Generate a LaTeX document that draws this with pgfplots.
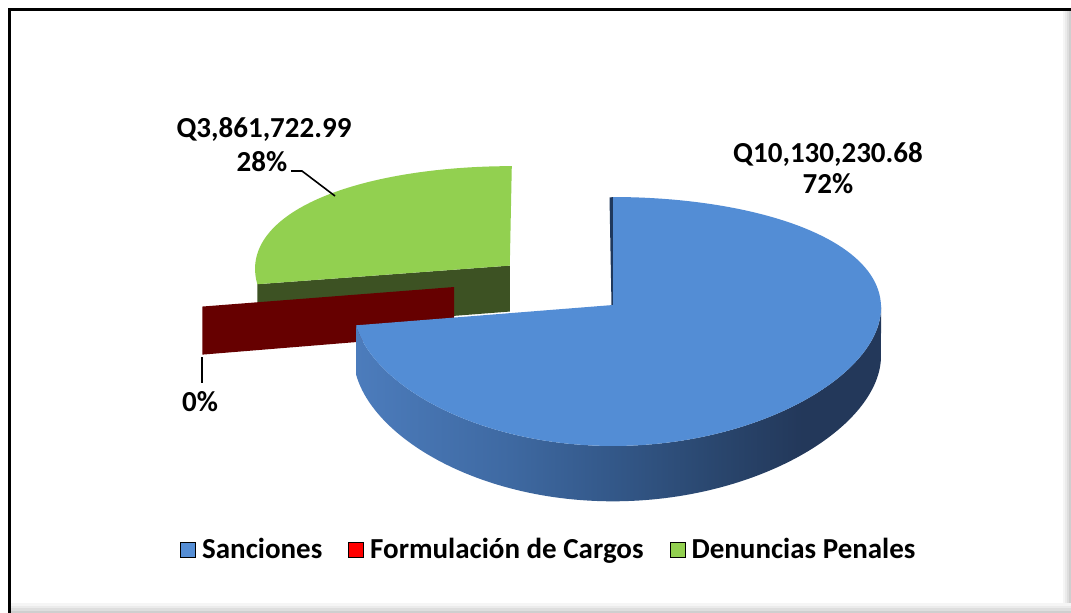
\documentclass[border=0pt]{standalone}
\usepackage{fontspec}
\setmainfont{Carlito}
\usepackage{xfp}
\usepackage{pgfplots}
\pgfplotsset{compat=1.18}

\definecolor{blueTop}{RGB}{83,141,213}
\definecolor{blueEdge}{RGB}{31,56,92}
\definecolor{bs1}{RGB}{76,124,188}
\definecolor{bs2}{RGB}{63,106,163}
\definecolor{bs3}{RGB}{50,86,134}
\definecolor{bs4}{RGB}{41,69,108}
\definecolor{bs5}{RGB}{35,56,90}
\definecolor{greenTop}{RGB}{146,208,80}
\definecolor{greenFace}{RGB}{61,82,35}
\definecolor{redFace}{RGB}{102,0,0}
\definecolor{legBlue}{RGB}{85,142,213}
\definecolor{legRed}{RGB}{255,0,0}
\definecolor{legGreen}{RGB}{146,208,80}

\pgfdeclarehorizontalshading{blueside}{100bp}{color(0bp)=(bs1); color(25bp)=(bs1); color(39bp)=(bs2); color(50.5bp)=(bs3); color(60bp)=(bs4); color(67.5bp)=(bs5); color(100bp)=(bs5)}

% ---- data (values of the chart) ----
\def\valS{10130230.68}% Sanciones
\def\valF{0}% Formulacion de Cargos
\def\valD{3861722.99}% Denuncias Penales

% ---- angles from the data ----
\edef\tB{\fpeval{round(90-360*\valS/(\valS+\valF+\valD),4)}}
\edef\tG{\fpeval{round(\tB+360,4)}}
\def\tS{-1.15}
\edef\mG{\fpeval{round((90+\tG)/2,4)}}
\edef\eu{\fpeval{round(0.52*cosd(\mG),4)}}
\edef\ev{\fpeval{round(0.52*sind(\mG),4)}}
\def\ru{-0.61}\def\rv{0.150}
% ---- projection of the pie plane ----
\def\PX#1#2{\fpeval{round(613+263.7*(#1)/(1+0.02*(#2)-0.016*(#1)),2)}}
\def\PY#1#2{\fpeval{round(305-122.3*(#2)/(1+0.1325*(#2)),2)}}
\def\PB#1#2{\fpeval{round(305+(48-122.3*(#2))/(1+0.1325*(#2)),2)}}
\edef\gou{\fpeval{round(\eu+cosd(\tG),4)}}
\edef\gov{\fpeval{round(\ev+sind(\tG),4)}}
\edef\rou{\fpeval{round(\ru+cosd(\tG),4)}}
\edef\rov{\fpeval{round(\rv+sind(\tG),4)}}
\edef\gAx{\PX{\eu}{\ev}}\edef\gAy{\PY{\eu}{\ev}}\edef\gAb{\PB{\eu}{\ev}}
\edef\gOx{\PX{\gou}{\gov}}\edef\gOy{\PY{\gou}{\gov}}\edef\gOb{\PB{\gou}{\gov}}
\edef\rAx{\PX{\ru}{\rv}}\edef\rAy{\PY{\ru}{\rv}}\edef\rAb{\PB{\ru}{\rv}}
\edef\rOx{\PX{\rou}{\rov}}\edef\rOy{\PY{\rou}{\rov}}\edef\rOb{\PB{\rou}{\rov}}

\newcommand\lblfont{\fontsize{29}{34}\selectfont\bfseries}

\begin{document}
\begin{tikzpicture}
\begin{axis}[
  width=1071pt, height=613pt, scale only axis,
  xmin=0, xmax=1071, ymin=0, ymax=613, y dir=reverse,
  axis lines=none, clip=false,
  declare function={
    TT(\s)=(\s<=1)?((\tB)+((\tS)-(\tB))*\s):((\tS)-((\tS)-(\tB))*(\s-1));
    OF(\s)=(\s<=1)?0:48;
    PXf(\u,\v)=613+263.7*\u/(1+0.02*\v-0.016*\u);
    PYf(\u,\v)=305-122.3*\v/(1+0.1325*\v);
  },
  legend image code/.code={\fill[#1] (0pt,-7.5pt) rectangle (15pt,7.5pt);},
  legend style={draw=none, fill=none, at={(0.5125,0.104)}, anchor=center,
    legend columns=3, font=\lblfont,
    /tikz/every odd column/.append style={column sep=4.5pt},
    /tikz/every even column/.append style={column sep=24pt}},
  legend cell align=left,
]
% background and frame
\fill[white] (axis cs:-8,-8) rectangle (axis cs:1080,622);
\fill[black!4]  (axis cs:1063,10.5) rectangle (axis cs:1080,622);
\fill[black!8]  (axis cs:1065,10.5) rectangle (axis cs:1080,622);
\fill[black!13] (axis cs:1067,10.5) rectangle (axis cs:1080,622);
\fill[black!19] (axis cs:1069,10.5) rectangle (axis cs:1080,622);
\fill[black!4]  (axis cs:10.5,603) rectangle (axis cs:1080,622);
\fill[black!8]  (axis cs:10.5,605.5) rectangle (axis cs:1080,622);
\fill[black!13] (axis cs:10.5,608) rectangle (axis cs:1080,622);
\fill[black!19] (axis cs:10.5,610.5) rectangle (axis cs:1080,622);
\fill[black] (axis cs:8,8) rectangle (axis cs:1080,10.5);
\fill[black] (axis cs:8,8) rectangle (axis cs:10.5,622);

% Denuncias Penales: cut face, top
\addplot[forget plot, draw=none, fill=greenFace] coordinates {(\gAx,\gAy) (\gOx,\gOy) (\gOx,\gOb) (\gAx,\gAb)} -- cycle;
\addplot[forget plot, draw=none, fill=greenTop, domain=90:\tG, samples=80, variable=\t]
  ({PXf(\eu+cos(\t),\ev+sin(\t))},
   {PYf(\eu+cos(\t),\ev+sin(\t))}) -- (axis cs:\gAx,\gAy) -- cycle;
% Formulacion de Cargos (0%): cut face
\addplot[forget plot, draw=none, fill=redFace] coordinates {(\rAx,\rAy) (\rOx,\rOy) (\rOx,\rOb) (\rAx,\rAb)} -- cycle;
% Sanciones: edge, side, top
\addplot[forget plot, draw=none, fill=blueEdge] coordinates {(609.5,197.5) (613.5,197) (614,305) (611.5,305.5)} -- cycle;
\addplot[forget plot, draw=none, shade, shading=blueside, domain=0:2, samples=241, variable=\s]
  ({613+263.7*cos(TT(\s))/(1+0.02*sin(TT(\s))-0.016*cos(TT(\s)))},
   {305+(OF(\s)-122.3*sin(TT(\s)))/(1+0.1325*sin(TT(\s)))}) -- cycle;
\addplot[forget plot, draw=none, fill=blueTop, domain=\tB:90, samples=140, variable=\t]
  ({PXf(cos(\t),sin(\t))},
   {PYf(cos(\t),sin(\t))}) -- (axis cs:613,305) -- cycle;

% data labels
\node[anchor=base, inner sep=0pt, font=\lblfont] at (axis cs:264,137) {Q3,861,722.99};
\node[anchor=base, inner sep=0pt, font=\lblfont] at (axis cs:262,171) {28\%};
\node[anchor=base, inner sep=0pt, font=\lblfont] at (axis cs:828,162) {Q10,130,230.68};
\node[anchor=base, inner sep=0pt, font=\lblfont] at (axis cs:828,193) {72\%};
\node[anchor=base, inner sep=0pt, font=\lblfont] at (axis cs:200,411) {0\%};
\draw[line width=1.6pt] (axis cs:291,171) -- (axis cs:302,171) -- (axis cs:335,196);
\draw[line width=1.8pt] (axis cs:202,357) -- (axis cs:202,383);

% legend
\addlegendimage{fill=legBlue}
\addlegendentry{Sanciones}
\addlegendimage{fill=legRed}
\addlegendentry{Formulación de Cargos}
\addlegendimage{fill=legGreen}
\addlegendentry{Denuncias Penales}
\end{axis}
\pgfresetboundingbox
\path (current axis.south west) rectangle (current axis.north east);
\end{tikzpicture}
\end{document}
